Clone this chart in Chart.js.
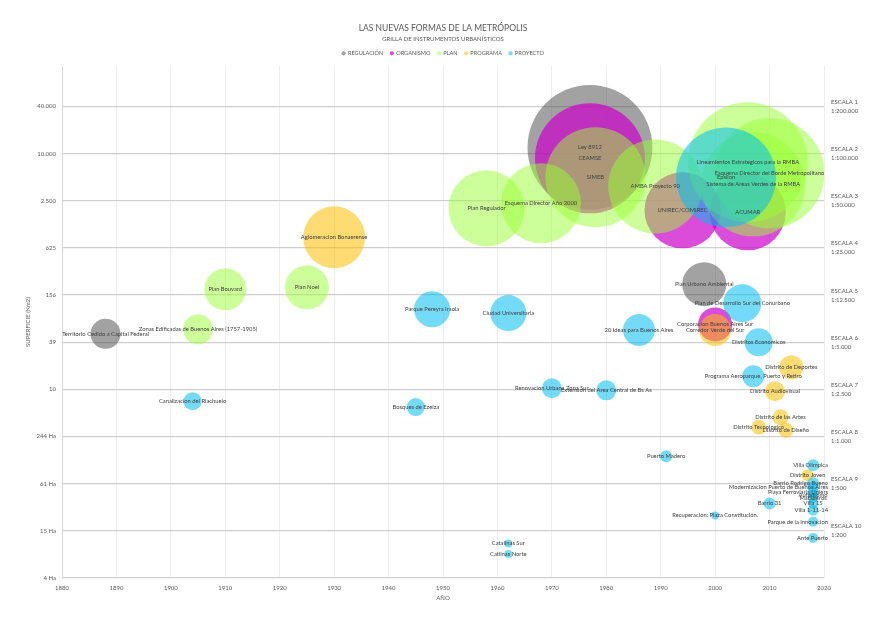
<!DOCTYPE html>
<html>
<head>
<meta charset="utf-8">
<script src="https://cdn.jsdelivr.net/npm/chart.js@4.4.0/dist/chart.umd.min.js"></script>
<style>
  html, body { margin: 0; padding: 0; background: #fff; overflow: hidden; }
  canvas { display: block; }
</style>
</head>
<body>
<canvas id="chart" width="886" height="627"></canvas>
<script>
const FONT = 'Lato, "Open Sans", sans-serif';
const TEXT = '#595959';

const seriesNames = ['REGULACIÓN', 'ORGANISMO', 'PLAN', 'PROGRAMA', 'PROYECTO'];
const seriesColors = ['rgba(70,70,70,0.5)', 'rgba(204,0,204,0.7)', 'rgba(153,255,51,0.5)', 'rgba(255,192,0,0.55)', 'rgba(0,190,240,0.55)'];

// superficie en km2, tamaño de burbuja relativo
const regulacionLabels = ['Territorio Cedido a Capital Federal', 'Ley 8912', 'Plan Urbano Ambiental'];
const regulacionYears = [1888, 1977, 1998];
const regulacionArea = [50, 12000, 215];
const regulacionSize = [225, 3900, 484];

const organismoLabels = ['CEAMSE', 'UNIREC/COMIREC', 'Corporacion Buenos Aires Sur', 'ACUMAR'];
const organismoYears = [1977, 1994, 2000, 2006];
const organismoArea = [8700, 1890, 66, 1780];
const organismoSize = [3025, 1444, 289, 1444];

const planLabels = ['Zonas Edificadas de Buenos Aires (1757-1905)', 'Plan Bouvard', 'Plan Noel', 'Plan Regulador',
  'Esquema Director Año 2000', 'SIMEB', 'AMBA Proyecto 90', 'Lineamientos Estrategicos para la RMBA',
  'Sistema de Areas Verdes de la RMBA', 'Esquema Director del Borde Metropolitano'];
const planYears = [1905, 1910, 1925, 1958, 1968, 1978, 1989, 2006, 2007, 2010];
const planArea = [57, 185, 196, 2000, 2320, 5000, 3800, 7730, 4050, 5600];
const planSize = [225, 441, 484, 1444, 1600, 2500, 2209, 3600, 2704, 3025];

const programaLabels = ['Aglomeracion Bonaerense', 'Corredor Verde del Sur', 'Distrito Tecnologico', 'Distrito Audiovisual',
  'Distrito de las Artes', 'Distrito de Diseño', 'Distrito de Deportes', 'Distrito Joven'];
const programaYears = [1930, 2000, 2008, 2011, 2012, 2013, 2014, 2017];
const programaArea = [854, 56, 3.2, 9.25, 4.3, 2.95, 18.7, 0.78];
const programaSize = [961, 256, 56, 100, 64, 56, 144, 36];

const proyectoLabels = ['Canalizacion del Riachuelo', 'Bosques de Ezeiza', 'Parque Pereyra Iraola', 'Ciudad Universitaria',
  'Catalinas Sur', 'Catlinas Norte', 'Renovacion Urbana Zona Sur', 'Extension del Area Central de Bs As',
  '20 Ideas para Buenos Aires', 'Puerto Madero', 'Recuperación: Plaza Constitución.', 'Epsilon',
  'Plan de Desarrollo Sur del Conurbano', 'Programa Aeroparque, Puerto y Retiro', 'Distritos Economicos', 'Barrio 31',
  'Villa Olimpica', 'Barrio Rodrigo Bueno', 'Modernizacion Puerto de Buenos Aires', 'Playa Ferroviaria Liniers',
  'Autodromo', 'Mataderos', 'Villa 15', 'Villa 1-11-14', 'Parque de la Innovacion', 'Ante Puerto'];
const proyectoYears = [1904, 1945, 1948, 1962, 1962, 1962, 1970, 1980, 1986, 1991, 2000, 2002, 2005, 2007, 2008, 2010,
  2018, 2018, 2018, 2018, 2018, 2018, 2018, 2018, 2018, 2018];
const proyectoArea = [6.9, 5.8, 103, 92, 0.105, 0.077, 10.1, 9.5, 56, 1.37, 0.24, 4970, 123, 14.4, 39, 0.34,
  1.05, 0.62, 0.55, 0.48, 0.44, 0.40, 0.34, 0.28, 0.20, 0.124];
const proyectoSize = [81, 81, 324, 324, 16, 16, 100, 100, 256, 36, 16, 2500, 361, 121, 196, 36,
  36, 36, 30, 30, 25, 25, 25, 30, 25, 25];

// eje vertical en base 4
const yTicks = [0.03814697265625, 0.152587890625, 0.6103515625, 2.44140625, 9.765625, 39.0625, 156.25, 625, 2500, 10000, 40000];
const yTickLabels = ['4 Ha', '15 Ha', '61 Ha', '244 Ha', '10', '39', '156', '625', '2.500', '10.000', '40.000'];
const yMax = 131000;

const escalaNames = ['ESCALA 1', 'ESCALA 2', 'ESCALA 3', 'ESCALA 4', 'ESCALA 5', 'ESCALA 6', 'ESCALA 7', 'ESCALA 8', 'ESCALA 9', 'ESCALA 10'];
const escalaRatios = ['1:200.000', '1:100.000', '1:50.000', '1:25.000', '1:12.500', '1:5.000', '1:2.500', '1:1.000', '1:500', '1:200'];
const escalaTicks = [40000, 10000, 2500, 625, 156.25, 39.0625, 9.765625, 2.44140625, 0.6103515625, 0.152587890625];

const makePoints = (years, area, size) => years.map((year, i) => ({ x: year, y: area[i], r: Math.sqrt(size[i]) }));

const series = [
  [regulacionLabels, makePoints(regulacionYears, regulacionArea, regulacionSize)],
  [organismoLabels, makePoints(organismoYears, organismoArea, organismoSize)],
  [planLabels, makePoints(planYears, planArea, planSize)],
  [programaLabels, makePoints(programaYears, programaArea, programaSize)],
  [proyectoLabels, makePoints(proyectoYears, proyectoArea, proyectoSize)],
];

const datasets = series.map(([names, points], i) => ({
  label: seriesNames[i],
  names: names,
  data: points,
  backgroundColor: seriesColors[i],
  borderWidth: 0,
  order: series.length - 1 - i,
}));

// etiquetas de cada burbuja
const bubbleLabels = {
  id: 'bubbleLabels',
  afterDatasetsDraw(chart) {
    const { ctx, chartArea } = chart;
    ctx.save();
    ctx.font = '5.8px ' + FONT;
    ctx.fillStyle = '#404040';
    ctx.textAlign = 'center';
    ctx.textBaseline = 'middle';
    chart.data.datasets.forEach((ds, i) => {
      chart.getDatasetMeta(i).data.forEach((el, j) => {
        const name = ds.names[j];
        if (!name) return;
        const w = ctx.measureText(name).width;
        let x = Math.min(el.x, chartArea.right + 4 - w / 2);
        x = Math.max(x, chartArea.left - 1 + w / 2);
        ctx.fillText(name, x, el.y);
      });
    });
    ctx.restore();
  }
};

new Chart(document.getElementById('chart'), {
  type: 'bubble',
  data: { datasets },
  plugins: [bubbleLabels],
  options: {
    responsive: false,
    animation: false,
    events: [],
    layout: { autoPadding: false, padding: 0 },
    plugins: {
      title: {
        display: true,
        text: 'LAS NUEVAS FORMAS DE LA METRÓPOLIS',
        color: TEXT,
        font: { family: FONT, size: 8.5, weight: 'normal', lineHeight: 1.2 },
        padding: { top: 23.5, bottom: 0 }
      },
      subtitle: {
        display: true,
        text: 'GRILLA DE INSTRUMENTOS URBANÍSTICOS',
        color: TEXT,
        font: { family: FONT, size: 6, lineHeight: 1.2 },
        padding: { top: 1.6, bottom: 1 }
      },
      legend: {
        display: true,
        position: 'top',
        labels: {
          usePointStyle: true,
          pointStyle: 'circle',
          boxWidth: 3,
          boxHeight: 3,
          padding: 7,
          color: TEXT,
          font: { family: FONT, size: 5.6 },
          sort: (a, b) => a.datasetIndex - b.datasetIndex
        }
      },
      tooltip: { enabled: false }
    },
    scales: {
      x: {
        type: 'linear',
        min: 1880,
        max: 2020,
        afterFit: (s) => { s.height = 49; },
        ticks: { stepSize: 10, color: TEXT, font: { family: FONT, size: 6 }, padding: 6, callback: (v) => String(v) },
        grid: { color: '#eeeeee', drawTicks: false },
        border: { display: false },
        title: { display: true, text: 'AÑO', color: TEXT, font: { family: FONT, size: 6 }, padding: { bottom: 25.4 } }
      },
      y: {
        type: 'logarithmic',
        min: yTicks[0],
        max: yMax,
        afterFit: (s) => { s.width = 62; },
        afterBuildTicks: (axis) => { axis.ticks = yTicks.map(v => ({ value: v })); },
        ticks: {
          autoSkip: false,
          color: TEXT,
          font: { family: FONT, size: 6 },
          padding: 6,
          callback: (v, i) => yTickLabels[i]
        },
        grid: { color: '#cfcfcf', lineWidth: 1.3, drawTicks: false },
        border: { display: true, color: '#d9d9d9' },
        title: { display: true, text: 'SUPERFICIE (Km2)', color: TEXT, font: { family: FONT, size: 6 }, padding: { top: 24.4 } }
      },
      escala: {
        type: 'logarithmic',
        position: 'right',
        min: yTicks[0],
        max: yMax,
        afterFit: (s) => { s.width = 62; },
        afterBuildTicks: (axis) => { axis.ticks = escalaTicks.map(v => ({ value: v })); },
        ticks: {
          autoSkip: false,
          color: TEXT,
          font: { family: FONT, size: 6, lineHeight: 1.5 },
          padding: 7,
          callback: (v, i) => [escalaNames[i], escalaRatios[i]]
        },
        grid: { display: false, drawTicks: false },
        border: { display: false }
      }
    }
  }
});
</script>
</body>
</html>
